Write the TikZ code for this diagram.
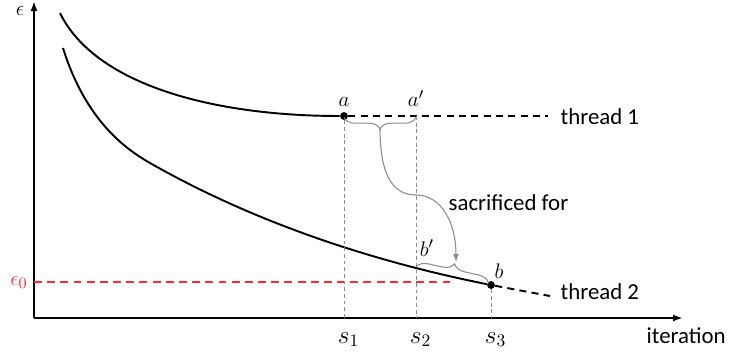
\documentclass[tikz,border=0pt]{standalone}
\usepackage{fontspec}
\setsansfont{Carlito}
\usepackage{tikz}
\usetikzlibrary{arrows.meta,positioning,calc,decorations.pathreplacing}
\definecolor{gline}{HTML}{8C8C8C}
\definecolor{ered}{HTML}{FF2A2A}
\tikzset{
  axis/.style   = {-{Latex[length=2mm,width=1.4mm]}, line width=1.1pt},
  trace/.style  = {line width=1.1pt},
  cont/.style   = {line width=1.1pt, dash pattern=on 4pt off 3pt},
  guide/.style  = {gline, line width=0.5pt, dash pattern=on 2.2pt off 1.6pt},
  eline/.style  = {ered, line width=1pt, dash pattern=on 4.5pt off 3pt},
  dot/.style    = {fill, circle, inner sep=0pt, minimum size=4.5pt},
  gbrace/.style = {gline, line width=0.6pt, decorate,
                   decoration={brace, amplitude=6.5pt}},
  link/.style   = {gline, line width=0.6pt, -{Latex[length=1.6mm,width=1.2mm]}},
  lbl/.style    = {font=\sffamily\fontsize{13}{15}\selectfont},
  mlbl/.style   = {inner sep=1pt},
}

\begin{document}
\begin{tikzpicture}[x=1cm,y=1cm,font=\fontsize{13}{15}\selectfont]
\useasboundingbox (-0.68,-0.76) rectangle (13.92,6.36);
% axes
\coordinate (O) at (0,0);
\coordinate (ytop) at (0,6.34);
\coordinate (xend) at (12.98,0);
\draw[axis] (O) -- (ytop);
\draw[axis] (O) -- (xend);
\node[mlbl] (eps) at (-0.28,6.15) {$\epsilon$};
\node[lbl, anchor=base west] (iter) at (12.13,-0.5) {iteration};

% target level
\coordinate (e0a) at (0,0.72);
\coordinate (e0b) at (8.36,0.72);
\draw[eline] (e0a) -- (e0b);
\node[mlbl, ered, anchor=base east] (eps0) at (-0.085,0.66) {$\epsilon_0$};

% thread 1
\node[dot] (a) at (6.2,4.04) {};
\coordinate (a') at (7.64,4.04);
\coordinate (t1start) at (0.52,6.1);
\coordinate (t1end) at (10.28,4.04);
\draw[trace] (t1start) .. controls (1.2,4.7) and (3.5,4.04) .. (a);
\draw[cont] (a) -- (t1end);
\node[lbl, anchor=base west] (th1) at (10.41,3.88) {thread 1};

% thread 2
\node[dot] (b) at (9.14,0.66) {};
\coordinate (b') at (7.64,1.0);
\coordinate (t2start) at (0.58,5.4);
\coordinate (t2end) at (10.32,0.44);
\draw[trace] (t2start) .. controls (1.03,3.96) and (1.82,3.385) .. (2.32,3.1)
  .. controls (4.32,1.96) and (6.64,1.16) .. (b);
\draw[cont] (b) -- (t2end);
\node[lbl, anchor=base west] (th2) at (10.41,0.38) {thread 2};

% iteration marks
\coordinate (f1) at (6.2,0);
\coordinate (f2) at (7.64,0);
\coordinate (f3) at (9.14,0);
\draw[guide] (a) -- (f1);
\draw[guide] (a') -- (f2);
\draw[guide] (b) -- (f3);
\node[mlbl, anchor=base, font=\fontsize{14}{16}\selectfont] (s1) at ($(f1)+(0.09,-0.5)$) {$s_1$};
\node[mlbl, anchor=base, font=\fontsize{14}{16}\selectfont] (s2) at ($(f2)+(0.09,-0.5)$) {$s_2$};
\node[mlbl, anchor=base, font=\fontsize{14}{16}\selectfont] (s3) at ($(f3)+(0.09,-0.5)$) {$s_3$};

% point labels
\node[mlbl, above=2pt of a] (alab) {$a$};
\node[mlbl, above=0.14 of a'] (aplab) {$a'$};
\node[mlbl] (bplab) at (7.86,1.4) {$b'$};
\node[mlbl, above right=0.02 and -0.03 of b] (blab) {$b$};

% braces and link
\draw[gbrace, decoration={mirror}] ($(a)+(0,-0.03)$) -- ($(a')+(0,-0.03)$);
\draw[gbrace] ($(b')+(0,0.02)$) -- ($(b)+(-0.05,0.04)$);
\coordinate (atip) at (6.92,3.8);
\coordinate (turn) at (7.64,2.46);
\coordinate (btip) at (8.44,1.12);
\draw[link] (atip) .. controls (6.92,2.9) and (7.15,2.46) .. (turn)
  .. controls (8.15,2.46) and (8.44,1.9) .. (btip);
\node[lbl, anchor=base west] (sac) at (8.17,2.16) {sacrificed for};
\end{tikzpicture}
\end{document}
